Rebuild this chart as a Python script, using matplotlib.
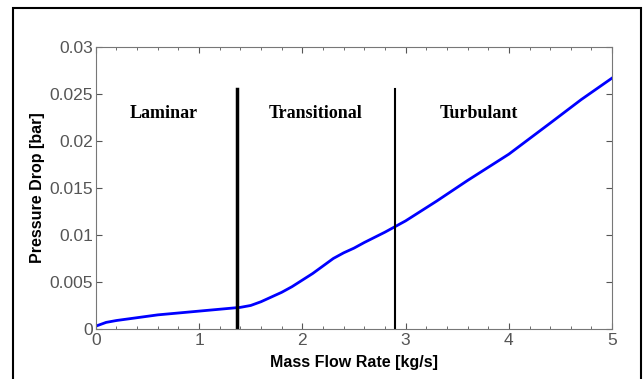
from matplotlib import pyplot as plt
from matplotlib.patches import Rectangle
import numpy as np

# mass flow rate [kg/s] vs pressure drop [bar]
flow = [0.0, 0.05, 0.1, 0.2, 0.3, 0.4, 0.6, 0.8, 1.0, 1.2, 1.4, 1.5, 1.6, 1.7, 1.8,
        1.9, 2.0, 2.1, 2.2, 2.3, 2.4, 2.5, 2.6, 2.8, 3.0, 3.3, 3.6, 4.0, 4.4, 4.7, 5.0]
dp = [0.0003, 0.0005, 0.0007, 0.0009, 0.00105, 0.0012, 0.0015, 0.0017, 0.0019, 0.0021,
      0.0023, 0.0025, 0.0029, 0.0034, 0.0039, 0.0045, 0.0052, 0.0059, 0.0067, 0.0075,
      0.0081, 0.0086, 0.0092, 0.0103, 0.0115, 0.0136, 0.0158, 0.0186, 0.0219, 0.0244,
      0.0267]
regime_x = [0.66, 2.13, 3.71]
regime_names = ['Laminar', 'Transitional', 'Turbulant']
bounds = [1.37, 2.9]
bound_widths = [2.5, 1.5]

fig = plt.figure(figsize=(6.43, 3.79), dpi=100)
ax = fig.add_axes([0.149, 0.132, 0.803, 0.744])

ax.plot(flow, dp, color='#0000ff', lw=2)
for b, w in zip(bounds, bound_widths):
    ax.plot([b, b], [0, 0.0255], color='black', lw=w)
for x, name in zip(regime_x, regime_names):
    ax.text(x, 0.0229, name, ha='center', va='center', fontsize=13,
            fontweight='bold', family='Liberation Serif')

ax.set_xlim(0, 5)
ax.set_ylim(0, 0.03)
ax.set_xticks(np.arange(0, 5.1, 1))
ax.set_xticks(np.arange(0, 5.01, 0.2), minor=True)
ax.set_yticks(np.arange(0, 0.0301, 0.005))
ax.set_yticklabels(['0', '0.005', '0.01', '0.015', '0.02', '0.025', '0.03'])
ax.tick_params(which='both', direction='in', top=True, right=True, colors='#555555',
               labelcolor='#555555', labelsize=12.5, pad=2)
ax.tick_params(axis='x', pad=3)
ax.tick_params(which='major', length=4)
ax.tick_params(which='minor', length=2.5)
ax.tick_params(axis='y', which='minor', left=False, right=False)
for s in ax.spines.values():
    s.set_color('#777777')
for lab in ax.get_xticklabels() + ax.get_yticklabels():
    lab.set_family('Liberation Sans')

ax.set_xlabel('Mass Flow Rate [kg/s]', fontsize=11.5, fontweight='bold',
              family='Liberation Sans', labelpad=5)
ax.set_ylabel('Pressure Drop [bar]', fontsize=11.5, fontweight='bold',
              family='Liberation Sans', labelpad=3)

# outer frame around the whole figure
fig.patches.append(Rectangle((13 / 643, -0.05), 628 / 643, 1.05 - 8 / 379,
                             transform=fig.transFigure, fill=False,
                             edgecolor='black', lw=1.5))

fig.savefig('out.png', dpi=100)
